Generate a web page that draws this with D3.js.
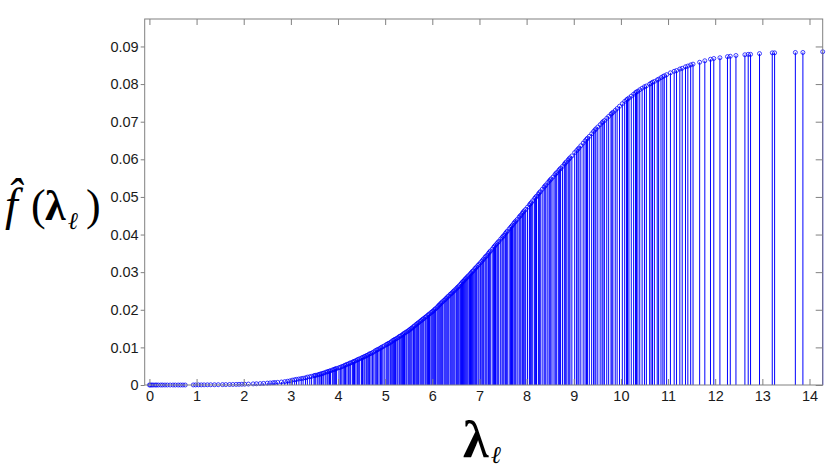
<!DOCTYPE html>
<html><head><meta charset="utf-8">
<script src="https://cdn.jsdelivr.net/npm/d3@7"></script>
<style>body{margin:0;background:#fff}</style>
</head><body>
<svg id="c" width="831" height="470"></svg>
<script>
const lambdas = [
 0,0.02,0.05,0.08,0.12,0.15,0.19,0.24,0.28,0.33,0.38,0.44,0.5,0.55,0.61,0.66,0.71,0.76,
 0.93,0.98,1.04,1.1,1.16,1.23,1.3,1.38,1.46,1.55,1.62,1.7,1.77,1.84,1.9,1.96,2.02,
 2.1,2.2,2.27,2.35,2.42,2.5,2.56,2.62,2.66,2.72,2.8,2.87,2.93,2.98,
 3.03,3.08,3.12,3.17,3.22,3.26,3.31,3.35,3.4,3.44,3.49,3.53,3.57,3.6,3.65,3.7,3.74,3.79,3.84,3.88,3.93,3.97,
 4.02,4.05,4.11,4.14,4.19,4.22,4.27,4.31,4.33,4.38,4.43,4.46,4.5,4.55,4.57,4.62,4.67,4.7,4.73,4.79,4.82,4.87,4.9,4.95,4.98,
 5.02,5.06,5.08,5.13,5.16,5.2,5.22,5.27,5.3,5.32,5.37,5.41,5.44,5.46,5.51,5.55,5.57,5.62,5.65,5.69,5.71,5.76,5.8,5.82,5.87,5.9,5.94,5.97,
 6.01,6.05,6.07,6.12,6.14,6.18,6.2,6.25,6.27,6.31,6.33,6.38,6.4,6.44,6.46,6.51,6.53,6.57,6.6,6.64,6.66,6.7,6.74,6.76,6.81,6.83,6.87,6.9,6.94,6.97,
 7.02,7.05,7.09,7.12,7.16,7.19,7.23,7.27,7.3,7.34,7.37,7.41,7.45,7.48,7.52,7.55,7.59,7.63,7.66,7.7,7.73,7.77,7.8,7.84,7.88,7.91,7.95,7.98,
 8.02,8.06,8.1,8.13,8.17,8.21,8.25,8.29,8.33,8.37,8.41,8.45,8.48,8.52,8.56,8.6,8.64,8.68,8.72,8.76,8.8,8.84,8.88,8.92,8.96,
 9.02,9.06,9.11,9.15,9.2,9.24,9.29,9.33,9.38,9.42,9.47,9.51,9.56,9.6,9.65,9.7,9.74,9.79,9.83,9.88,9.92,9.97,
 10.03,10.08,10.12,10.17,10.22,10.27,10.31,10.36,10.4,
 10.45,10.54,10.61,10.67,10.71,10.77,10.85,10.89,10.92,11.05,11.13,11.18,11.25,11.3,11.37,11.42,11.48,11.53,11.67,11.78,11.9,11.97,
 12.1,12.26,12.32,12.44,12.63,12.7,12.75,12.94,13.21,13.26,13.7,13.86,14.28
];
const fvals = [
 0,0,0,0,0,0,0,0,0,0,0,0,0,0,0,0,0,0,
 0.00002,0.00002,0.00003,0.00003,0.00004,0.00005,0.00006,0.00007,0.00008,0.0001,0.00011,0.00013,0.00014,0.00016,0.00018,0.0002,0.00022,
 0.00025,0.0003,0.00033,0.00038,0.00043,0.0005,0.00055,0.0006,0.00065,0.0007,0.0008,0.0009,0.001,0.0011,
 0.0013,0.0014,0.0015,0.0016,0.0017,0.0018,0.0019,0.0021,0.0022,0.0023,0.0025,0.0026,0.0027,0.0028,0.0030,0.0032,0.0034,0.0036,0.0038,0.0040,0.0042,0.0044,
 0.0046,0.0047,0.0050,0.0052,0.0055,0.0056,0.0059,0.0061,0.0062,0.0065,0.0068,0.0070,0.0072,0.0075,0.0076,0.0079,0.0083,0.0084,0.0086,0.0091,0.0093,0.0096,0.0098,0.0102,0.0104,
 0.0107,0.0110,0.0111,0.0115,0.0118,0.0121,0.0122,0.0126,0.0129,0.0130,0.0134,0.0138,0.0140,0.0142,0.0146,0.0150,0.0152,0.0157,0.0160,0.0164,0.0166,0.0171,0.0175,0.0177,0.0182,0.0185,0.0189,0.0192,
 0.0196,0.0201,0.0203,0.0209,0.0212,0.0217,0.0219,0.0225,0.0227,0.0232,0.0235,0.0241,0.0243,0.0248,0.0250,0.0256,0.0259,0.0264,0.0268,0.0274,0.0276,0.0282,0.0287,0.0290,0.0296,0.0299,0.0304,0.0309,0.0314,0.0318,
 0.0325,0.0329,0.0335,0.0340,0.0345,0.0350,0.0356,0.0361,0.0366,0.0372,0.0376,0.0382,0.0388,0.0392,0.0398,0.0403,0.0409,0.0415,0.0419,0.0425,0.0430,0.0436,0.0440,0.0446,0.0452,0.0457,0.0463,0.0467,
 0.0473,0.0479,0.0485,0.0490,0.0496,0.0502,0.0508,0.0514,0.0520,0.0526,0.0532,0.0538,0.0542,0.0548,0.0553,0.0559,0.0565,0.0570,0.0576,0.0581,0.0587,0.0593,0.0598,0.0604,0.0609,
 0.0618,0.0623,0.0630,0.0636,0.0643,0.0649,0.0656,0.0661,0.0668,0.0674,0.0681,0.0686,0.0692,0.0697,0.0703,0.0709,0.0714,0.0720,0.0725,0.0730,0.0735,0.0741,
 0.0748,0.0754,0.0758,0.0763,0.0768,0.0773,0.0777,0.0781,0.0785,
 0.0789,0.0795,0.0800,0.0805,0.0807,0.0811,0.0817,0.0820,0.0822,0.0830,0.0834,0.0836,0.0840,0.0842,0.0846,0.0848,0.0851,0.0853,0.0858,0.0862,0.0866,0.0868,
 0.0870,0.0873,0.0874,0.0876,0.0878,0.0879,0.0879,0.0881,0.0883,0.0883,0.0884,0.0884,0.0886
];
// further eigenvalues in the dense middle band
const lambdasMid = [
 3.51,3.62,3.68,3.77,3.82,3.91,3.95,
 4.08,4.16,4.25,4.35,4.41,4.52,4.6,4.65,4.76,4.84,4.92,
 5.04,5.11,5.18,5.25,5.35,5.39,5.49,5.53,5.6,5.67,5.74,5.78,5.85,5.92,5.99,
 6.03,6.1,6.16,6.22,6.29,6.35,6.42,6.48,6.55,6.62,6.68,6.72,6.79,6.85,6.92,6.99,
 7.07,7.14,7.21,7.32,7.39,7.5,7.57,7.68,7.75,7.86,7.93,
 8.08,8.19,8.27,8.39,8.5,8.62,8.7,8.82,8.9,
 9.09,9.27,9.45,9.62,9.81,
 10.14,10.33,10.5,10.64,10.8,10.97
];
const fvalsMid = [
 0.0025,0.0029,0.0031,0.0035,0.0037,0.0041,0.0043,
 0.0049,0.0053,0.0058,0.0063,0.0067,0.0073,0.0078,0.0081,0.0088,0.0094,0.0100,
 0.0108,0.0113,0.0119,0.0124,0.0132,0.0136,0.0144,0.0148,0.0155,0.0162,0.0169,0.0173,0.0180,0.0187,0.0194,
 0.0198,0.0206,0.0214,0.0222,0.0230,0.0237,0.0245,0.0253,0.0261,0.0271,0.0279,0.0284,0.0293,0.0302,0.0311,0.0321,
 0.0332,0.0342,0.0353,0.0369,0.0379,0.0395,0.0406,0.0422,0.0433,0.0449,0.0460,
 0.0482,0.0499,0.0511,0.0529,0.0545,0.0562,0.0573,0.0590,0.0601,
 0.0627,0.0653,0.0678,0.0700,0.0722,
 0.0760,0.0779,0.0793,0.0802,0.0813,0.0825
];
const xTicks = [0,1,2,3,4,5,6,7,8,9,10,11,12,13,14];
const yTicks = [0,0.01,0.02,0.03,0.04,0.05,0.06,0.07,0.08,0.09];
const yTickLabels = ["0","0.01","0.02","0.03","0.04","0.05","0.06","0.07","0.08","0.09"];

const svg = d3.select("#c");
const L = 144.7, R = 822.7, T = 19, B = 385;
const x = d3.scaleLinear().domain([-0.1, 14.28]).range([L, R]);
const y = d3.scaleLinear().domain([0, 0.0973]).range([B, T]);
const data = lambdas.map((l,i)=>({l, f: fvals[i]}))
  .concat(lambdasMid.map((l,i)=>({l, f: fvalsMid[i]})))
  .sort((a,b)=>a.l-b.l);

const axisColor = "#808080", textColor = "#1a1a1a";
const font = "'Liberation Sans', Arial, sans-serif";

// stems
svg.append("g").selectAll("line").data(data).join("line")
  .attr("x1", d=>x(d.l)).attr("x2", d=>x(d.l))
  .attr("y1", y(0)).attr("y2", d=>y(d.f))
  .attr("stroke", "#0000ff").attr("stroke-width", 1);
// markers
svg.append("g").selectAll("circle").data(data).join("circle")
  .attr("cx", d=>x(d.l)).attr("cy", d=>y(d.f)).attr("r", 2)
  .attr("fill", "none").attr("stroke", "#0000ff").attr("stroke-width", 0.75);

// frame
svg.append("rect").attr("x", L).attr("y", T).attr("width", R-L).attr("height", B-T)
  .attr("fill", "none").attr("stroke", axisColor).attr("stroke-width", 1);

function styleAxis(g){
  g.select(".domain").remove();
  g.selectAll(".tick line").attr("stroke", axisColor);
  g.selectAll("text").attr("fill", textColor).style("font-family", font).style("font-size", "14.5px");
}
svg.append("g").attr("transform", `translate(0,${B})`)
  .call(d3.axisBottom(x).tickValues(xTicks).tickSize(-6).tickSizeOuter(0).tickPadding(6).tickFormat(d3.format("d")))
  .call(styleAxis);
svg.append("g").attr("transform", `translate(0,${T})`)
  .call(d3.axisTop(x).tickValues(xTicks).tickSize(-6).tickSizeOuter(0).tickFormat(""))
  .call(styleAxis);
svg.append("g").attr("transform", `translate(${L},0)`)
  .call(d3.axisLeft(y).tickValues(yTicks).tickSize(4).tickSizeOuter(0).tickPadding(2).tickFormat((d,i)=>yTickLabels[i]))
  .call(styleAxis);
svg.append("g").attr("transform", `translate(${R},0)`)
  .call(d3.axisRight(y).tickValues(yTicks).tickSize(-7).tickSizeOuter(0).tickFormat(""))
  .call(styleAxis);

// y label  f-hat(lambda_l)
const serif = "'Liberation Serif', 'Times New Roman', serif";
const yl = svg.append("text").attr("fill", "#000").style("font-family", serif).attr("y", 220);
yl.append("tspan").attr("x", 5).style("font-size", "46px").style("font-style", "italic").text("f\u0302");
yl.append("tspan").attr("x", 31).style("font-size", "44px").text("(");
yl.append("tspan").attr("x", 45).style("font-size", "42px").style("font-weight", "bold").text("\u03BB");
yl.append("tspan").attr("x", 68).attr("dy", 9).style("font-size", "24px").style("font-style", "italic").text("\u2113");
yl.append("tspan").attr("x", 86).attr("dy", -9).style("font-size", "44px").text(")");

// x label lambda_l
const xl = svg.append("text").attr("fill", "#000").style("font-family", serif).attr("y", 457);
xl.append("tspan").attr("x", 463).style("font-size", "52px").style("font-weight", "bold").text("\u03BB");
xl.append("tspan").attr("x", 491).attr("dy", 6).style("font-size", "24px").style("font-style", "italic").text("\u2113");
</script>
</body></html>
